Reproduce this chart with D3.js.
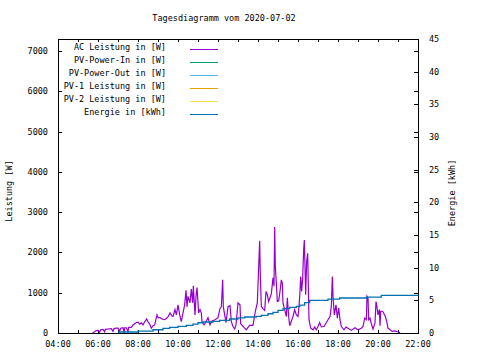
<!DOCTYPE html>
<html><head><meta charset="utf-8">
<script src="https://cdn.jsdelivr.net/npm/d3@7/dist/d3.min.js"></script>
<style>
html,body{margin:0;padding:0;background:#fff;}
svg{display:block;}
text{font-family:"DejaVu Sans Mono",monospace;font-size:8.5px;fill:#000;}
</style></head>
<body>
<svg id="chart" width="480" height="360"></svg>
<script>
const title = "Tagesdiagramm vom 2020-07-02";
const yLabel = "Leistung [W]";
const y2Label = "Energie [kWh]";
const xTickLabels = ["04:00","06:00","08:00","10:00","12:00","14:00","16:00","18:00","20:00","22:00"];
const yTicks = [0,1000,2000,3000,4000,5000,6000,7000];
const y2Ticks = [0,5,10,15,20,25,30,35,40,45];
const seriesNames = ["AC Leistung in [W]","PV-Power-In in [W]","PV-Power-Out in [W]","PV-1 Leistung in [W]","PV-2 Leistung in [W]","Energie in [kWh]"];
const seriesColors = ["#9400d3","#009e73","#56b4e9","#e69f00","#f0e442","#0072b2"];

// AC Leistung [W]
const acTimes = ["05:44","05:50","05:55","06:00","06:05","06:08","06:15","06:20","06:22","06:30","06:40","06:45","06:48","06:55","07:00","07:05","07:08","07:15","07:18","07:20","07:25","07:30","07:32","07:40","07:45","07:55","08:00","08:05","08:10","08:15","08:20","08:26","08:30","08:35","08:40","08:45","08:50","08:57","09:00","09:06","09:12","09:20","09:25","09:30","09:36","09:42","09:45","09:51","09:55","10:00","10:03","10:06","10:10","10:15","10:20","10:24","10:27","10:30","10:36","10:40","10:44","10:46","10:51","10:54","10:57","11:02","11:06","11:10","11:12","11:18","11:24","11:30","11:36","11:42","11:51","12:00","12:06","12:10","12:14","12:16","12:24","12:30","12:36","12:40","12:45","12:50","12:54","13:00","13:06","13:08","13:18","13:25","13:30","13:35","13:45","13:52","13:58","14:05","14:07","14:10","14:15","14:20","14:24","14:28","14:32","14:40","14:45","14:48","14:50","14:52","14:55","14:58","15:02","15:06","15:10","15:13","15:15","15:20","15:25","15:28","15:32","15:35","15:40","15:45","15:50","15:55","16:00","16:03","16:06","16:08","16:11","16:14","16:17","16:19","16:21","16:23","16:26","16:29","16:31","16:33","16:38","16:45","16:50","16:55","17:00","17:05","17:10","17:18","17:30","17:36","17:40","17:43","17:45","17:49","17:54","17:58","18:02","18:06","18:10","18:18","18:24","18:30","18:40","18:51","19:00","19:10","19:15","19:20","19:25","19:27","19:30","19:32","19:36","19:40","19:45","19:51","19:54","19:56","20:00","20:04","20:06","20:08","20:14","20:18","20:22","20:26","20:30","20:36","20:43","20:51","20:58","21:04","21:06"];
const acValues = [0,30,60,65,20,80,90,30,90,100,110,40,110,120,120,40,120,130,0,130,130,40,140,140,200,260,270,220,250,200,280,350,280,220,120,180,200,450,380,380,350,330,360,400,500,420,410,580,450,700,550,410,280,500,700,1060,650,910,750,1090,750,1170,450,900,1130,500,580,500,280,200,280,380,200,300,330,380,610,650,1320,650,260,650,680,280,160,100,200,750,700,230,140,80,140,190,190,540,750,2290,1420,660,600,560,1030,950,780,975,1370,1160,2630,1650,1240,780,800,1030,1320,1240,740,580,410,875,410,180,290,410,580,450,410,660,1030,1400,1030,1360,2070,2310,1650,950,1780,1980,1160,330,120,80,150,80,160,260,150,160,330,410,660,1400,910,450,700,370,620,330,160,80,150,120,65,130,80,120,160,370,330,910,870,330,370,230,100,250,780,700,450,580,180,540,540,480,410,290,120,80,40,50,30,20,0];

// Energie [kWh]
const enTimes = ["07:00","08:00","08:45","09:15","09:35","10:00","10:25","10:45","11:00","11:15","11:45","12:05","12:35","13:00","13:20","13:55","14:10","14:30","14:45","15:00","15:15","15:35","15:55","16:05","16:20","16:35","17:30","18:05","19:25","20:10","22:00"];
const enValues = [0.15,0.3,0.5,0.7,0.86,1.0,1.17,1.37,1.57,1.68,1.78,1.93,2.14,2.3,2.45,2.55,2.7,2.95,3.15,3.46,3.72,3.92,4.07,4.28,4.64,5.0,5.2,5.36,5.5,5.76,5.78];

const parse = d3.timeParse("%H:%M");
const fmt = d3.timeFormat("%H:%M");
const L = 58, R = 418, T = 39, B = 333;

const svg = d3.select("#chart");
const x = d3.scaleTime().domain([parse("04:00"), parse("22:00")]).range([L, R]);
const y = d3.scaleLinear().domain([0, 7300]).range([B, T]);
const y2 = d3.scaleLinear().domain([0, 45]).range([B, T]);

const hourTicks = d3.range(4, 23).map(h => parse(String(h).padStart(2,"0") + ":00"));
const labelTicks = xTickLabels.map(parse);

// title
svg.append("text").attr("x", 224).attr("y", 21).attr("text-anchor","middle").text(title);

// frame
svg.append("rect").attr("x", L+0.5).attr("y", T+0.5).attr("width", R-L).attr("height", B-T)
  .attr("fill","none").attr("stroke","#000").attr("stroke-width",1).attr("shape-rendering","crispEdges");

const tickG = svg.append("g").attr("stroke","#000").attr("stroke-width",1).attr("shape-rendering","crispEdges");
// x ticks bottom + top mirror
hourTicks.forEach(t => {
  const px = Math.round(x(t)) + 0.5;
  tickG.append("line").attr("x1",px).attr("x2",px).attr("y1",B).attr("y2",B-3);
  tickG.append("line").attr("x1",px).attr("x2",px).attr("y1",T).attr("y2",T+3);
});
// y ticks left + right mirror
yTicks.forEach(v => {
  const py = Math.round(y(v)) + 0.5;
  tickG.append("line").attr("x1",L).attr("x2",L+4).attr("y1",py).attr("y2",py);
  tickG.append("line").attr("x1",R).attr("x2",R-4).attr("y1",py).attr("y2",py);
});
// y2 ticks right
y2Ticks.forEach(v => {
  const py = Math.round(y2(v)) + 0.5;
  tickG.append("line").attr("x1",R).attr("x2",R-4).attr("y1",py).attr("y2",py);
});

// tick labels
svg.append("g").selectAll("text").data(labelTicks).join("text")
  .attr("x", d => x(d)).attr("y", 347).attr("text-anchor","middle").text(d => fmt(d));
svg.append("g").selectAll("text").data(yTicks).join("text")
  .attr("x", 48).attr("y", d => y(d) + 3).attr("text-anchor","end").text(d => d);
svg.append("g").selectAll("text").data(y2Ticks).join("text")
  .attr("x", 429).attr("y", d => y2(d) + 3).attr("text-anchor","start").text(d => d);

// axis titles
svg.append("text").attr("transform","translate(12,191) rotate(-90)").attr("text-anchor","middle").text(yLabel);
svg.append("text").attr("transform","translate(455,193) rotate(-90)").attr("text-anchor","middle").text(y2Label);

// data lines
const acData = acTimes.map((t,i) => ({t: parse(t), v: acValues[i]}));
const enData = enTimes.map((t,i) => ({t: parse(t), v: enValues[i]}));

svg.append("path").datum(acData)
  .attr("fill","none").attr("stroke", seriesColors[0]).attr("stroke-width",1.2)
  .attr("d", d3.line().x(d => x(d.t)).y(d => y(d.v)));

svg.append("path").datum(enData)
  .attr("fill","none").attr("stroke", seriesColors[5]).attr("stroke-width",1.3)
  .attr("d", d3.line().curve(d3.curveStepAfter).x(d => x(d.t)).y(d => y2(d.v)));

// legend
const leg = svg.append("g");
seriesNames.forEach((n,i) => {
  leg.append("text").attr("x",166).attr("y",50 + 13*i).attr("text-anchor","end").text(n);
  leg.append("line").attr("x1",190).attr("x2",218).attr("y1",49.5 + 13*i).attr("y2",49.5 + 13*i)
    .attr("stroke", seriesColors[i]).attr("stroke-width",1).attr("shape-rendering","crispEdges");
});
</script>
</body></html>
